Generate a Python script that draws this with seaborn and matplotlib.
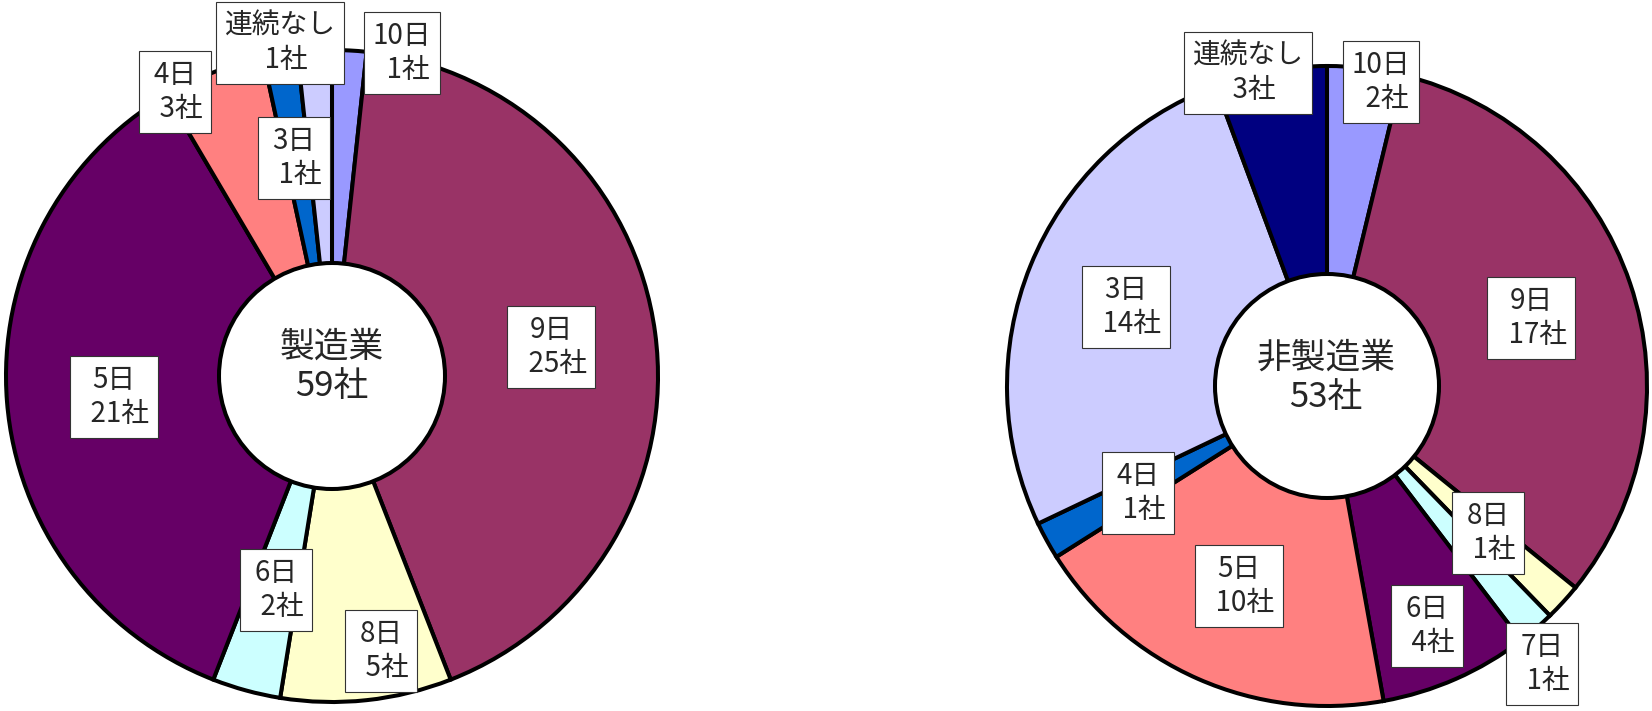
import matplotlib
matplotlib.use("Agg")
import matplotlib.pyplot as plt
import seaborn as sns
from matplotlib.patches import Circle

# data: days of consecutive holidays -> number of companies
mfg_days = ['10日', '9日', '8日', '6日', '5日', '4日', '3日', '連続なし']
mfg_counts = [1, 25, 5, 2, 21, 3, 1, 1]

non_days = ['10日', '9日', '8日', '7日', '6日', '5日', '4日', '3日', '連続なし']
non_counts = [2, 17, 1, 1, 4, 10, 1, 14, 3]

titles = ['製造業', '非製造業']

# Excel-like palette, assigned in point order
palette = ['#9999FF', '#993366', '#FFFFCC', '#CCFFFF', '#660066',
           '#FF8080', '#0066CC', '#CCCCFF', '#000080']

# layout (pixel coordinates, y from top)
W, H = 1652, 711
centers = [(332, 376), (1327, 386)]
radii = [326, 320]
hole_r = [113, 112]
title_pos = [(332, 367), (1326, 378)]
label_pos = [
    [(402, 53), (551, 347), (381, 651), (276, 590), (114, 397),
     (175, 92), (294, 158), (280, 43)],
    [(1381, 82), (1531, 318), (1488, 533), (1542, 664), (1427, 626),
     (1239, 586), (1138, 493), (1126, 307), (1248, 73)],
]

sns.set_theme(style="white")
plt.rcParams['font.family'] = ['Noto Sans CJK JP', 'DejaVu Sans']

fig = plt.figure(figsize=(W / 100, H / 100), dpi=100)
ax = fig.add_axes([0, 0, 1, 1])

charts = [(mfg_days, mfg_counts), (non_days, non_counts)]
for i, (days, counts) in enumerate(charts):
    cx, cy = centers[i][0], H - centers[i][1]
    ax.pie(counts, colors=palette[:len(counts)], startangle=90,
           counterclock=False, center=(cx, cy), radius=radii[i],
           wedgeprops=dict(edgecolor='black', linewidth=2.9),
           frame=True)
    ax.add_patch(Circle((cx, cy), hole_r[i], facecolor='white',
                        edgecolor='black', linewidth=2.9, zorder=5))
    tx, ty = title_pos[i]
    ax.text(tx, H - ty, f"{titles[i]}\n{sum(counts)}社", ha='center',
            va='center', fontsize=25, linespacing=1.15, zorder=6)
    for (lx, ly), d, c in zip(label_pos[i], days, counts):
        ax.text(lx, H - ly, f"{d}\n  {c}社", ha='center', va='center',
                multialignment='center', fontsize=20, linespacing=1.2,
                zorder=7,
                bbox=dict(boxstyle='square,pad=0.3', facecolor='white',
                          edgecolor='#333333', linewidth=0.8))

ax.set_xlim(0, W)
ax.set_ylim(0, H)
ax.set_aspect('equal')
ax.axis('off')

fig.savefig("out.png", dpi=100, facecolor='white')
